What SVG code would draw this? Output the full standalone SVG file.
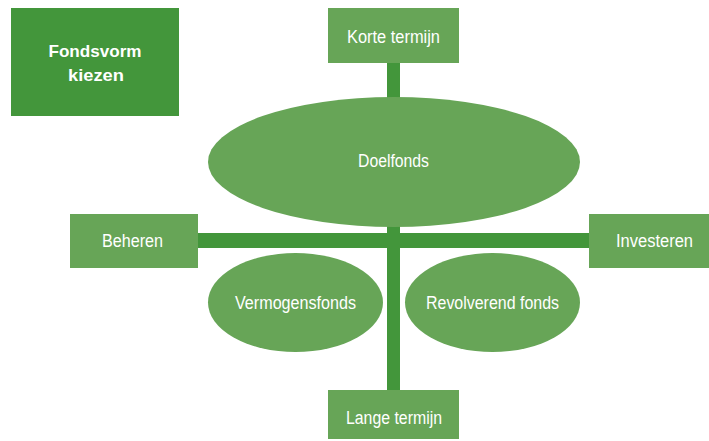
<svg xmlns="http://www.w3.org/2000/svg" width="709" height="441" viewBox="0 0 709 441">
<style>
.box{fill:#67a557}
.dark{fill:#43963b}
.t{font-family:"Liberation Sans",Arial,sans-serif;font-size:18px;fill:#ffffff;text-anchor:middle}
.b{font-weight:bold;font-size:17px}
</style>
<rect width="709" height="441" fill="#ffffff"/>
<g id="connectors">
<rect class="dark" x="387" y="60" width="13" height="40"/>
<rect class="dark" x="196" y="233" width="396" height="15"/>
<rect class="dark" x="387" y="220" width="13" height="172"/>
</g>
<g id="fondsvorm">
<rect class="dark" x="11" y="8" width="168" height="108"/>
<text class="t b" x="95" y="57" textLength="93" lengthAdjust="spacingAndGlyphs">Fondsvorm</text>
<text class="t b" x="96" y="81" textLength="56" lengthAdjust="spacingAndGlyphs">kiezen</text>
</g>
<g id="korte">
<rect class="box" x="328" y="8" width="131" height="55"/>
<text class="t" x="393.5" y="43" textLength="93" lengthAdjust="spacingAndGlyphs">Korte termijn</text>
</g>
<g id="doelfonds">
<ellipse class="box" cx="394" cy="162" rx="186" ry="65"/>
<text class="t" x="393.5" y="167" textLength="71" lengthAdjust="spacingAndGlyphs">Doelfonds</text>
</g>
<g id="beheren">
<rect class="box" x="70" y="214" width="128" height="54"/>
<text class="t" x="132.5" y="247" textLength="61" lengthAdjust="spacingAndGlyphs">Beheren</text>
</g>
<g id="investeren">
<rect class="box" x="589" y="214" width="120" height="54"/>
<text class="t" x="654.5" y="247" textLength="77" lengthAdjust="spacingAndGlyphs">Investeren</text>
</g>
<g id="vermogensfonds">
<ellipse class="box" cx="295.5" cy="302.5" rx="87.5" ry="49.5"/>
<text class="t" x="295.5" y="309" textLength="121" lengthAdjust="spacingAndGlyphs">Vermogensfonds</text>
</g>
<g id="revolverend">
<ellipse class="box" cx="492.5" cy="302.5" rx="87.5" ry="49.5"/>
<text class="t" x="492.5" y="309" textLength="133" lengthAdjust="spacingAndGlyphs">Revolverend fonds</text>
</g>
<g id="lange">
<rect class="box" x="328" y="390" width="131" height="49"/>
<text class="t" x="394" y="424" textLength="96" lengthAdjust="spacingAndGlyphs">Lange termijn</text>
</g>
</svg>
